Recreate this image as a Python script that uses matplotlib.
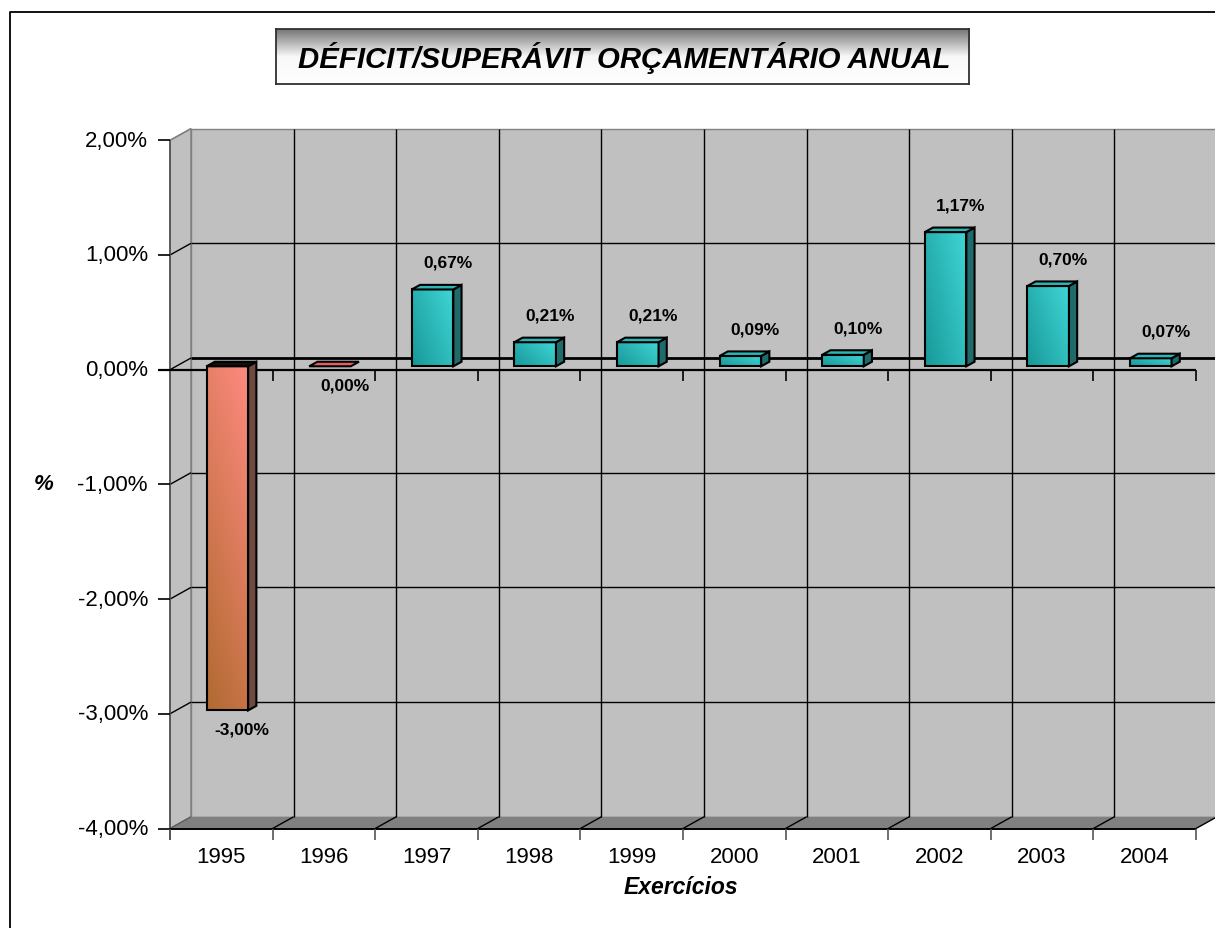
import numpy as np
import matplotlib
matplotlib.use('Agg')
import matplotlib.pyplot as plt
from matplotlib.patches import Polygon
from matplotlib.lines import Line2D
from matplotlib.colors import LinearSegmentedColormap

# ---------------- data ----------------
years = ['1995', '1996', '1997', '1998', '1999', '2000', '2001', '2002', '2003', '2004']
values = [-3.00, 0.00, 0.67, 0.21, 0.21, 0.09, 0.10, 1.17, 0.70, 0.07]
y_ticks = [2, 1, 0, -1, -2, -3, -4]
y_tick_labels = ['2,00%', '1,00%', '0,00%', '-1,00%', '-2,00%', '-3,00%', '-4,00%']
title = 'DÉFICIT/SUPERÁVIT ORÇAMENTÁRIO ANUAL'
x_title = 'Exercícios'
y_title = '%'

plt.rcParams['font.family'] = ['Liberation Sans', 'DejaVu Sans']

W, H = 1215, 929
fig = plt.figure(figsize=(W / 100, H / 100), dpi=100)

# outer chart border (left and top visible)
fig.add_artist(Line2D([9.5 / W, 9.5 / W, 1.02], [-0.02, 1 - 12.5 / H, 1 - 12.5 / H],
                      transform=fig.transFigure, color='black', lw=1.3))

# ---------------- main axes ----------------
y_front_top, y_front_bot = 141.3, 829.5
ax = fig.add_axes([170 / W, (H - y_front_bot) / H, 1026 / W, (y_front_bot - y_front_top) / H])
ax.set_axis_off()
n = len(years)
ymin, ymax = min(y_ticks), max(y_ticks)
px_x = 1026 / n
px_y = (y_front_bot - y_front_top) / (ymax - ymin)
DX = 21 / px_x
DY = 11.7 / px_y


def P(x, y, d):
    return (x + d * DX, y + d * DY)


def poly(verts, fc, ec='none', lw=1.0, z=1):
    p = Polygon(verts, closed=True, facecolor=fc, edgecolor=ec, lw=lw, zorder=z, clip_on=False,
                joinstyle='miter')
    ax.add_patch(p)
    return p


def line(pts, color='black', lw=1.0, z=2):
    xs, ys = zip(*pts)
    ax.add_line(Line2D(xs, ys, color=color, lw=lw, zorder=z, clip_on=False,
                       solid_capstyle='butt'))


def grad_poly(verts, c0, c1, wu, wv, z):
    clip = Polygon(verts, closed=True, facecolor='none', edgecolor='none', transform=ax.transData)
    ax.add_patch(clip)
    xs = [v[0] for v in verts]
    ys = [v[1] for v in verts]
    u = np.linspace(0, 1, 60)
    vv = np.linspace(0, 1, 200)
    U, V = np.meshgrid(u, vv)
    T = wu * U + wv * V
    cmap = LinearSegmentedColormap.from_list('g', [c0, c1])
    im = ax.imshow(T, extent=[min(xs), max(xs), min(ys), max(ys)], origin='lower',
                   aspect='auto', cmap=cmap, vmin=0, vmax=1, zorder=z, interpolation='bilinear')
    im.set_clip_path(clip)
    poly(verts, 'none', 'black', 1.5, z + 0.1)


# side wall
poly([P(0, ymin, 0), P(0, ymax, 0), P(0, ymax, 1), P(0, ymin, 1)], '#C0C0C0', '#808080', 1.0, 1)
# back wall
poly([P(0, ymin, 1), P(n, ymin, 1), P(n, ymax, 1), P(0, ymax, 1)], '#C0C0C0', '#808080', 1.0, 1)
# floor
poly([P(0, ymin, 0), P(n, ymin, 0), P(n, ymin, 1), P(0, ymin, 1)], '#808080', 'none', 1.0, 1)

# gridlines on back wall and side wall
for yt in y_ticks:
    if yt in (ymin, ymax):
        continue
    line([P(0, yt, 1), P(n, yt, 1)], 'black', 2.0 if yt == 0 else 1.0, 2)
    line([P(0, yt, 0), P(0, yt, 1)], 'black', 1.0, 2)
for k in range(1, n):
    line([P(k, ymin, 1), P(k, ymax, 1)], 'black', 1.0, 2)
for k in range(1, n + 1):
    line([P(k, ymin, 0), P(k, ymin, 1)], 'black', 1.0, 2)
line([P(0, ymin, 0), P(0, ymin, 1)], '#606060', 1.0, 2)
line([P(0, ymax, 0), P(0, ymax, 1)], '#808080', 1.0, 2)

# front axes
tick_len_x = 12 / px_x
tick_len_y = 11 / px_y
line([P(0, ymin - tick_len_y, 0), P(0, ymax, 0)], '#555555', 1.3, 3)
for yt in y_ticks:
    line([P(-tick_len_x, yt, 0), P(0, yt, 0)], 'black', 1.2, 3)
line([P(-tick_len_x, 0, 0), P(n, 0, 0)], 'black', 1.6, 3)
for k in range(1, n + 1):
    line([P(k, 0, 0), P(k, -tick_len_y, 0)], 'black', 1.2, 3)
line([P(0, ymin, 0), P(n, ymin, 0)], 'black', 1.4, 3)
for k in range(0, n + 1):
    line([P(k, ymin, 0), P(k, ymin - tick_len_y, 0)], '#555555', 1.2, 3)

# ---------------- bars ----------------
bw = 0.405
d1, d2 = 0.29, 0.68
for i, v in enumerate(values):
    x0 = i + 0.5 - bw / 2
    x1 = x0 + bw
    ylo, yhi = min(0, v), max(0, v)
    neg = v < 0
    if v > 0:
        front_c0, front_c1 = '#189898', '#40D6D6'
        side_c, top_c = '#1F6B6B', '#2DB5B5'
    else:
        front_c0, front_c1 = '#B06A30', '#FF8A80'
        side_c, top_c = '#6E4A40', ('#101010' if neg else '#E06060')
    z = 5 + i * 0.01
    if yhi > ylo:
        grad_poly([P(x0, ylo, d1), P(x1, ylo, d1), P(x1, yhi, d1), P(x0, yhi, d1)],
                  front_c0, front_c1, 0.6 if v > 0 else 0.3, 0.4 if v > 0 else 0.7, z)
        poly([P(x1, ylo, d1), P(x1, ylo, d2), P(x1, yhi, d2), P(x1, yhi, d1)],
             side_c, 'black', 1.5, z + 0.2)
    poly([P(x0, yhi, d1), P(x1, yhi, d1), P(x1, yhi, d2), P(x0, yhi, d2)],
         top_c, 'black', 1.5, z + 0.3)
    lbl = f'{v:.2f}'.replace('.', ',') + '%'
    ax.annotate(lbl, xy=(i + 0.5, v), xytext=(21, 30.5 if v > 0 else -15),
                textcoords='offset pixels', ha='center', va='center',
                fontsize=12.5, fontweight='bold', zorder=10, annotation_clip=False)

# tick labels
for yt, lab in zip(y_ticks, y_tick_labels):
    ax.annotate(lab, xy=(0, yt), xytext=(-22, 0), textcoords='offset pixels',
                ha='right', va='center', fontsize=16, annotation_clip=False)
for i, yr in enumerate(years):
    ax.annotate(yr, xy=(i + 0.5, ymin), xytext=(0, -28.5), textcoords='offset pixels',
                ha='center', va='center', fontsize=16, annotation_clip=False)

ax.set_xlim(0, n)
ax.set_ylim(ymin, ymax)

# axis titles
fig.text(44 / W, 1 - 485 / H, y_title, ha='center', va='center', fontsize=16,
         fontweight='bold', fontstyle='italic')
fig.text(681 / W, 1 - 888 / H, x_title, ha='center', va='center', fontsize=16.5,
         fontweight='bold', fontstyle='italic')

# ---------------- title box ----------------
tx0, ty0, tx1, ty1 = 276, 30, 969, 85
tax = fig.add_axes([tx0 / W, (H - ty1) / H, (tx1 - tx0) / W, (ty1 - ty0) / H])
g = np.linspace(0, 1, 100).reshape(-1, 1)
tcmap = LinearSegmentedColormap.from_list('t', ['#FFFFFF', '#F8F8F8', '#767676'])
tax.imshow(g, extent=[0, 1, 0, 1], origin='lower', aspect='auto', cmap=tcmap)
tax.set_xlim(0, 1)
tax.set_ylim(0, 1)
tax.set_xticks([])
tax.set_yticks([])
for s in tax.spines.values():
    s.set_color('#303030')
    s.set_linewidth(1.3)
tax.text(0.503, 0.5, title, ha='center', va='center', fontsize=21.2, fontweight='bold',
         fontstyle='italic', transform=tax.transAxes)

fig.savefig('out.png', dpi=100)
